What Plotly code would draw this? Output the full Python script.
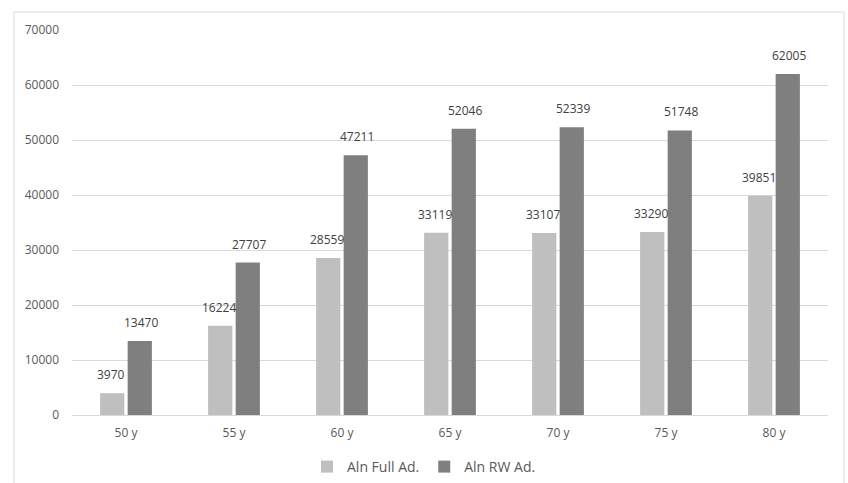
import plotly.graph_objects as go

categories = ["50 y", "55 y", "60 y", "65 y", "70 y", "75 y", "80 y"]
full_ad = [3970, 16224, 28559, 33119, 33107, 33290, 39851]
rw_ad = [13470, 27707, 47211, 52046, 52339, 51748, 62005]
series_names = ["Aln Full Ad.", "Aln RW Ad."]

FONT = "Open Sans, Liberation Sans, sans-serif"

fig = go.Figure()
fig.add_trace(go.Bar(
    x=categories, y=full_ad, name=series_names[0],
    marker=dict(color="#bfbfbf", line=dict(width=0)),
))
fig.add_trace(go.Bar(
    x=categories, y=rw_ad, name=series_names[1],
    marker=dict(color="#7f7f7f", line=dict(width=0)),
))

annotations = []
for series, shift in ((full_ad, -15.5), (rw_ad, 15)):
    for c, v in zip(categories, series):
        annotations.append(dict(
            x=c, y=v, xref="x", yref="y", text=str(v), showarrow=False,
            xanchor="center", yanchor="bottom", xshift=shift, yshift=8,
            font=dict(size=12, color="#404040", family=FONT),
        ))

fig.update_layout(
    width=848, height=483,
    margin=dict(l=72, r=20, t=30, b=68),
    paper_bgcolor="white", plot_bgcolor="white",
    barmode="group", bargap=0.49, bargroupgap=0.12,
    font=dict(family=FONT, size=12, color="#595959"),
    showlegend=True,
    legend=dict(orientation="h", xref="container", yref="container",
                x=0.5, xanchor="center", y=(483 - 467) / 483, yanchor="middle",
                font=dict(size=14, color="#595959"), itemwidth=30),
    xaxis=dict(showgrid=False, showline=True, linecolor="#d9d9d9", linewidth=1,
               ticks="", automargin=False, ticklabelstandoff=7,
               tickfont=dict(size=12, color="#595959")),
    yaxis=dict(range=[0, 70000], dtick=10000, showgrid=True, gridcolor="#d9d9d9",
               zeroline=False, showline=False, ticks="", tickformat="d",
               automargin=False, ticklabelstandoff=12,
               tickfont=dict(size=12, color="#595959")),
    annotations=annotations,
    shapes=[dict(type="rect", xref="paper", yref="paper",
                 x0=(14 - 72) / 756, x1=(844 - 72) / 756,
                 y0=(415 - 495) / 385, y1=(415 - 12) / 385,
                 line=dict(color="#d9d9d9", width=1), fillcolor="rgba(0,0,0,0)",
                 layer="below")],
)

fig.write_html("out.html", config={"displayModeBar": False},
               post_script="document.body.style.margin='0';document.body.style.overflow='hidden';")
